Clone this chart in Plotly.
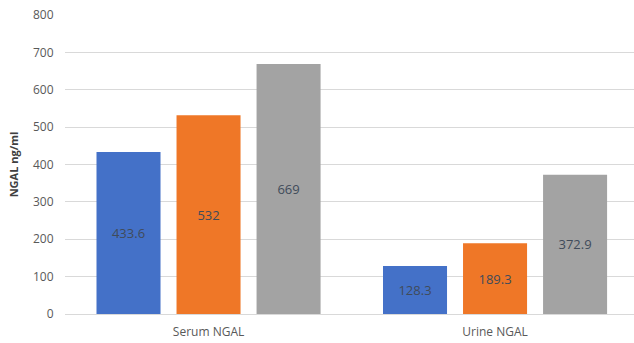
import plotly.graph_objects as go

categories = ["Serum NGAL", "Urine NGAL"]
series_names = ["Group 1", "Group 2", "Group 3"]
values_g1 = [433.6, 128.3]
values_g2 = [532, 189.3]
values_g3 = [669, 372.9]
colors = ["#4471C8", "#EF7727", "#A3A3A3"]
y_ticks = [0, 100, 200, 300, 400, 500, 600, 700, 800]

fig = go.Figure()
for name, vals, col in zip(series_names, [values_g1, values_g2, values_g3], colors):
    fig.add_trace(go.Bar(
        x=categories, y=vals, name=name,
        marker=dict(color=col, line=dict(width=0)),
        text=[f"{v:g}" for v in vals],
        textposition="inside", insidetextanchor="middle",
        textfont=dict(family="Open Sans", size=13, color="#404B5A"),
        textangle=0,
    ))

fig.update_layout(
    width=634, height=343,
    margin=dict(l=65, r=0, t=15, b=29),
    paper_bgcolor="white", plot_bgcolor="white",
    barmode="group", bargap=0.162, bargroupgap=0.2,
    showlegend=False,
    font=dict(family="Open Sans", color="#595959", size=12),
    uniformtext=dict(mode="show", minsize=8),
)
fig.update_xaxes(range=[-0.501, 1.485], showgrid=False, showline=False,
                 tickfont=dict(size=12, color="#595959"),
                 ticks="outside", ticklen=7, tickcolor="rgba(0,0,0,0)")
fig.update_yaxes(range=[0, 800], tickvals=y_ticks, showgrid=True,
                 gridcolor="#D9D9D9", gridwidth=1, zeroline=True,
                 zerolinecolor="#D9D9D9", zerolinewidth=1,
                 tickfont=dict(size=12, color="#595959"),
                 title=dict(text="<b>NGAL ng/ml</b>", font=dict(size=11, color="#404040"), standoff=12),
                 ticks="outside", ticklen=8, tickcolor="rgba(0,0,0,0)")

fig.write_html("out.html")
